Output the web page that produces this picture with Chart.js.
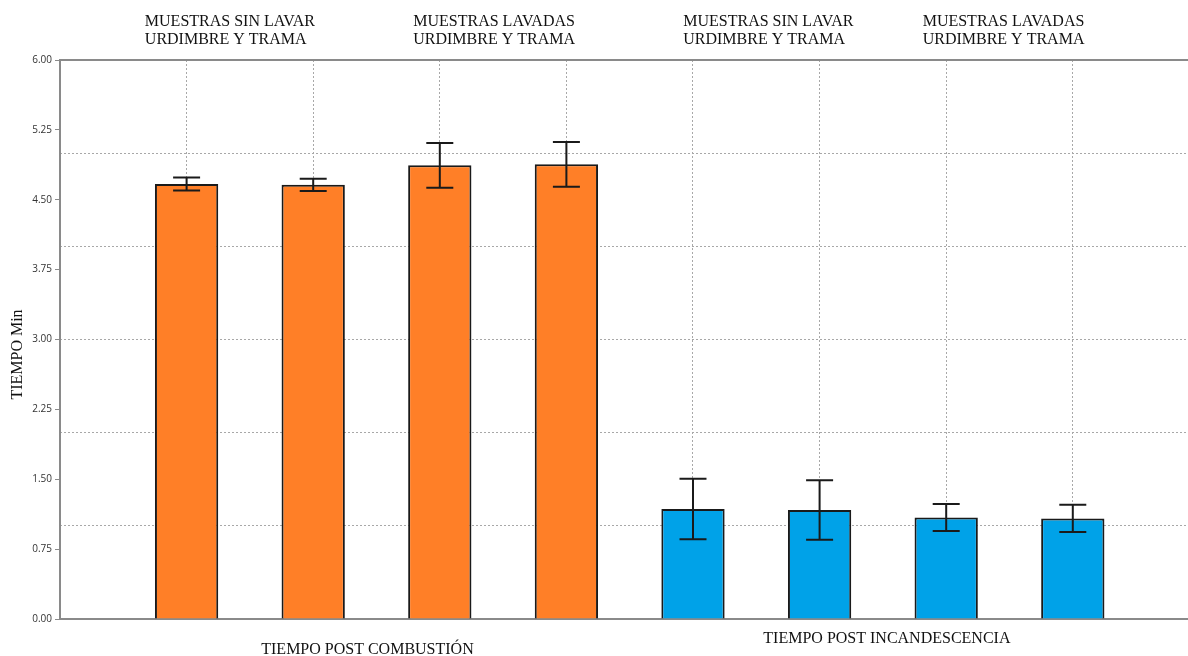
<!DOCTYPE html>
<html>
<head>
<meta charset="utf-8">
<script src="https://cdn.jsdelivr.net/npm/chart.js@4"></script>
<style>
  html, body { margin: 0; padding: 0; background: #fff; }
  #wrap { width: 1188px; height: 656px; position: relative; }
</style>
</head>
<body>
<div id="wrap"><canvas id="chart" width="1188" height="656"></canvas></div>
<script>
// ── Data ──
const samples   = ['SL urdimbre', 'SL trama', 'LAV urdimbre', 'LAV trama',
                   'SL urdimbre', 'SL trama', 'LAV urdimbre', 'LAV trama'];
const phase     = ['comb', 'comb', 'comb', 'comb', 'inc', 'inc', 'inc', 'inc'];
const meanMin   = [4.67, 4.66, 4.87, 4.88, 1.18, 1.17, 1.09, 1.08];
const errMin    = [0.07, 0.065, 0.24, 0.24, 0.325, 0.32, 0.145, 0.145];
const yTicks    = [0, 0.75, 1.5, 2.25, 3, 3.75, 4.5, 5.25, 6];

const pairTitles = [
  ['MUESTRAS SIN LAVAR', 'URDIMBRE Y TRAMA'],
  ['MUESTRAS LAVADAS', 'URDIMBRE Y TRAMA'],
  ['MUESTRAS SIN LAVAR', 'URDIMBRE Y TRAMA'],
  ['MUESTRAS LAVADAS', 'URDIMBRE Y TRAMA'],
];
const groupTitles = ['TIEMPO POST COMBUSTIÓN', 'TIEMPO POST INCANDESCENCIA'];
const yTitle = 'TIEMPO Min';

// ── Styling ──
const COLORS = { comb: '#ff7f27', inc: '#00a2e8' };
const AXIS   = '#8a8a8a';
const GRID   = '#a8a8a8';
const INK    = '#1a1a1a';
const SERIF  = '"Liberation Serif", "Times New Roman", serif';

const points = meanMin.map((v, i) => ({ x: i + 1, y: v }));

// error bars + free text labels
const annotate = {
  id: 'annotate',
  afterDatasetsDraw(chart) {
    const { ctx } = chart;
    const y = chart.scales.y;
    const bars = chart.getDatasetMeta(0).data;
    ctx.save();
    ctx.strokeStyle = INK;
    ctx.lineWidth = 2;
    bars.forEach((bar, i) => {
      const hi = y.getPixelForValue(meanMin[i] + errMin[i]);
      const lo = y.getPixelForValue(meanMin[i] - errMin[i]);
      const cap = 13.5;
      ctx.beginPath();
      ctx.moveTo(bar.x, hi); ctx.lineTo(bar.x, lo);
      ctx.moveTo(bar.x - cap, hi); ctx.lineTo(bar.x + cap, hi);
      ctx.moveTo(bar.x - cap, lo); ctx.lineTo(bar.x + cap, lo);
      ctx.stroke();
    });
    ctx.restore();
  },
  afterDraw(chart) {
    const { ctx, chartArea } = chart;
    const bars = chart.getDatasetMeta(0).data;
    ctx.save();
    ctx.fillStyle = '#111';
    ctx.font = '16px ' + SERIF;
    ctx.textBaseline = 'alphabetic';

    // titles over each pair of bars
    const pairNudge = [-20, -9, 12, -6];
    pairTitles.forEach((lines, k) => {
      const mid = (bars[2 * k].x + bars[2 * k + 1].x) / 2 + pairNudge[k];
      const left = mid - ctx.measureText(lines[0]).width / 2;
      ctx.textAlign = 'left';
      ctx.fillText(lines[0], left, 26);
      ctx.fillText(lines[1], left, 44);
    });

    // group titles under the axis
    const groupNudge = [-9, 4];
    const groupBase  = [654, 643];
    groupTitles.forEach((t, g) => {
      const mid = (bars[4 * g].x + bars[4 * g + 3].x) / 2 + groupNudge[g];
      ctx.textAlign = 'center';
      ctx.fillText(t, mid, groupBase[g]);
    });

    // rotated y title
    ctx.translate(18, (chartArea.top + chartArea.bottom) / 2 + 15);
    ctx.rotate(-Math.PI / 2);
    ctx.textAlign = 'center';
    ctx.textBaseline = 'middle';
    ctx.fillText(yTitle, 0, 0);
    ctx.restore();
  }
};

new Chart(document.getElementById('chart'), {
  type: 'bar',
  data: {
    datasets: [{
      data: points,
      backgroundColor: phase.map(p => COLORS[p]),
      borderColor: INK,
      borderWidth: 2,
      barPercentage: 0.5,
      categoryPercentage: 1,
    }]
  },
  options: {
    responsive: false,
    animation: false,
    layout: { padding: 0 },
    plugins: { legend: { display: false }, tooltip: { enabled: false } },
    scales: {
      x: {
        type: 'linear', position: 'bottom', min: 0, max: 8.91, offset: false,
        afterFit: s => { s.height = 37; },
        ticks: { display: false, stepSize: 1, includeBounds: false },
        grid: {
          offset: false, drawTicks: false, lineWidth: 1,
          color: c => (c.tick && c.tick.value > 0 ? GRID : 'rgba(0,0,0,0)'),
        },
        border: { display: true, color: AXIS, width: 2, dash: [2, 2] },
      },
      xTop: {
        type: 'linear', position: 'top', min: 0, max: 1,
        afterFit: s => { s.height = 60; },
        ticks: { display: false },
        grid: { display: false },
        border: { display: true, color: AXIS, width: 2 },
      },
      y: {
        min: 0, max: 6,
        afterFit: s => { s.width = 60; },
        afterBuildTicks: s => { s.ticks = yTicks.map(v => ({ value: v })); },
        ticks: {
          padding: 3, color: '#333',
          font: { family: '"Open Sans", "DejaVu Sans", sans-serif', size: 10 },
          callback: v => Number(v).toFixed(2),
        },
        grid: { drawOnChartArea: false, tickLength: 5, tickColor: AXIS, tickWidth: 1 },
        border: { display: true, color: AXIS, width: 2 },
      },
      yGrid: {
        type: 'linear', position: 'right', min: 0, max: 6,
        ticks: { display: false, stepSize: 1 },
        grid: {
          drawTicks: false, lineWidth: 1,
          color: c => (c.tick && c.tick.value > 0 && c.tick.value < 6 ? GRID : 'rgba(0,0,0,0)'),
        },
        border: { display: false, dash: [2, 2] },
      },
    }
  },
  plugins: [annotate]
});
</script>
</body>
</html>
